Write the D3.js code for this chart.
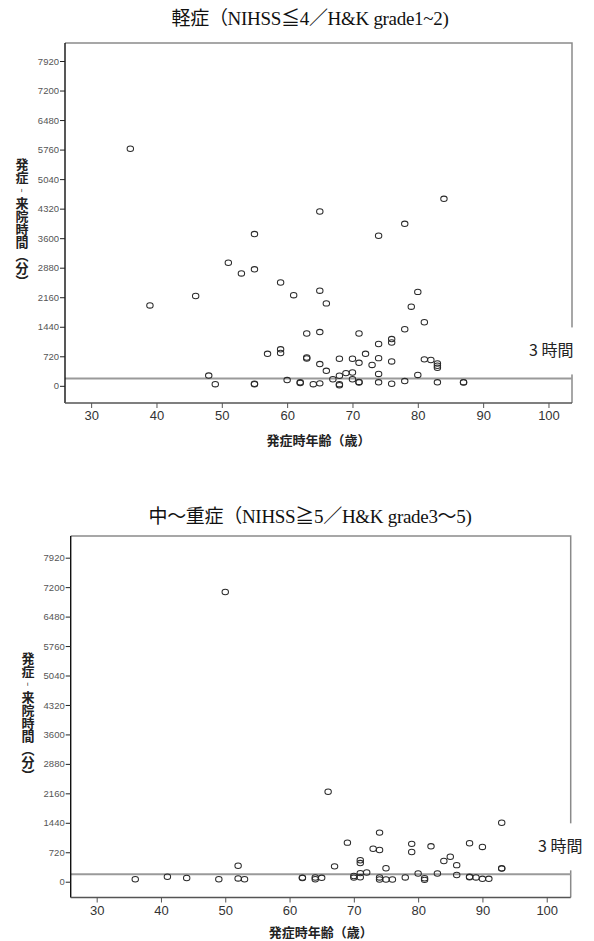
<!DOCTYPE html>
<html>
<head>
<meta charset="utf-8">
<script src="https://cdn.jsdelivr.net/npm/d3@7"></script>
<style>
body { margin: 0; background: #fff; }
svg text { font-family: "Liberation Sans", Arial, sans-serif; }
.title { font-family: "Liberation Serif", "Noto Sans CJK JP", serif; font-size: 19px; fill: #111; letter-spacing: -0.3px; }
.y-axis text { font-size: 9.5px; fill: #555; }
.x-axis text { font-size: 13px; fill: #333; }
.axis-title { font-family: "Noto Sans CJK JP", sans-serif; font-size: 13px; font-weight: bold; fill: #222; }
.y-title { writing-mode: vertical-rl; }
.cut-label { font-family: "Noto Sans CJK JP", sans-serif; font-size: 16px; fill: #222; }
</style>
</head>
<body>
<div class="chart"></div>
<script>
// DATA ------------------------------**
// 軽症: age at onset (years) / onset-to-arrival time (minutes)
const mildAge = [36, 39, 46, 48, 49, 51, 53, 55, 55, 55, 55, 57, 59, 59, 59, 60, 61, 62, 62, 63,
  63, 63, 64, 65, 65, 65, 65, 65, 66, 66, 67, 68, 68, 68, 68, 69, 70, 70, 70, 71,
  71, 71, 71, 72, 73, 74, 74, 74, 74, 74, 76, 76, 76, 76, 78, 78, 78, 79, 80, 80,
  81, 81, 82, 83, 83, 83, 83, 84, 87, 87];
const mildMin = [5780, 1960, 2190, 250, 40, 3000, 2740, 3700, 2840, 50, 40, 780, 2520, 890, 800, 140, 2210, 85, 70, 1275,
  690, 665, 40, 4250, 2320, 1310, 530, 60, 2010, 365, 160, 660, 245, 40, 15, 310, 325, 660, 160, 1275,
  560, 95, 80, 780, 510, 3660, 1020, 675, 290, 85, 1140, 1055, 595, 50, 3950, 1380, 115, 1930, 2290, 265,
  1550, 645, 630, 545, 490, 440, 85, 4560, 90, 80];

// 中～重症
const severeAge = [36, 41, 44, 49, 50, 52, 52, 53, 62, 62, 64, 64, 65, 66, 67, 69, 70, 70, 71, 71,
  71, 71, 72, 73, 74, 74, 74, 74, 75, 75, 76, 78, 79, 79, 80, 81, 81, 82, 83, 84,
  85, 86, 86, 88, 88, 88, 89, 90, 90, 91, 93, 93, 93];
const severeMin = [60, 120, 90, 60, 7080, 390, 80, 60, 100, 90, 104, 60, 95, 2200, 375, 955, 140, 100, 525, 455,
  210, 110, 225, 805, 1200, 775, 105, 55, 330, 55, 55, 105, 925, 725, 200, 85, 45, 865, 200, 505,
  610, 405, 165, 940, 120, 110, 105, 850, 70, 70, 1440, 330, 320];

const yTicks = [0, 720, 1440, 2160, 2880, 3600, 4320, 5040, 5760, 6480, 7200, 7920];
const xTicks = [30, 40, 50, 60, 70, 80, 90, 100];
const cutoff = 180; // 3時間
const titles = ['軽症（NIHSS≦4／H&K grade1~2)', '中～重症（NIHSS≧5／H&K grade3～5)'];
const xTitle = '発症時年齢（歳）';
const yTitle = '発症‐来院時間（分）';
const cutLabel = '3 時間';

// LAYOUT ----------------------------**
const W = 594, H = 941;
const panels = [
  {ages: mildAge, mins: mildMin, title: titles[0],
   left: 65, right: 572, top: 43, bottom: 403,
   xDomain: [26.0, 103.6], yDomain: [-419, 8359],
   titleY: 25, yTitleX: 22, xTitleY: 445, labelX: 529},
  {ages: severeAge, mins: severeMin, title: titles[1],
   left: 70.7, right: 570.7, top: 536, bottom: 897.5,
   xDomain: [25.96, 103.73], yDomain: [-386, 8450],
   titleY: 523, yTitleX: 28, xTitleY: 937, labelX: 538}
];

const svg = d3.select('.chart').append('svg')
    .attr('width', W)
    .attr('height', H);

panels.forEach(function(p) {
    const g = svg.append('g');

    let xScale = d3.scaleLinear().domain(p.xDomain).range([p.left, p.right]);
    let yScale = d3.scaleLinear().domain(p.yDomain).range([p.bottom, p.top]);

    // title
    g.append('text')
        .attr('class', 'title')
        .attr('x', 310)
        .attr('y', p.titleY)
        .attr('text-anchor', 'middle')
        .text(p.title);

    // frame (top / right)
    g.append('path')
        .attr('d', 'M' + p.left + ',' + p.top + 'H' + p.right + 'V' + p.bottom)
        .attr('fill', 'none')
        .attr('stroke', '#8a8a8a')
        .attr('stroke-width', 1.5);

    // 3 hour line
    g.append('line')
        .attr('x1', p.left)
        .attr('x2', p.right)
        .attr('y1', yScale(cutoff))
        .attr('y2', yScale(cutoff))
        .attr('stroke', '#9a9a9a')
        .attr('stroke-width', 2);

    // axes
    let yAxis = d3.axisLeft(yScale).tickValues(yTicks).tickFormat(d3.format('d')).tickSize(5).tickPadding(1);
    let xAxis = d3.axisBottom(xScale).tickValues(xTicks).tickFormat(d3.format('d')).tickSize(5).tickPadding(3);

    let yAxisGroup = g.append('g')
        .attr('class', 'y-axis')
        .attr('transform', 'translate(' + p.left + ',0)')
        .call(yAxis);
    yAxisGroup.select('.domain')
        .attr('d', 'M0,' + p.top + 'V' + p.bottom)
        .attr('stroke', '#111')
        .attr('stroke-width', 1.4);
    yAxisGroup.selectAll('line').attr('stroke', '#222');

    let xAxisGroup = g.append('g')
        .attr('class', 'x-axis')
        .attr('transform', 'translate(0,' + p.bottom + ')')
        .call(xAxis);
    xAxisGroup.select('.domain')
        .attr('d', 'M' + p.left + ',0H' + p.right)
        .attr('stroke', '#555')
        .attr('stroke-width', 1.5);
    xAxisGroup.selectAll('line').attr('stroke', '#555');

    // axis titles
    g.append('text')
        .attr('class', 'axis-title')
        .attr('x', (p.left + p.right) / 2)
        .attr('y', p.xTitleY)
        .attr('text-anchor', 'middle')
        .text(xTitle);

    g.append('text')
        .attr('class', 'axis-title y-title')
        .attr('x', p.yTitleX)
        .attr('y', (p.top + p.bottom) / 2)
        .attr('text-anchor', 'middle')
        .text(yTitle);

    // points
    g.selectAll('.pt')
        .data(p.ages.map(function(a, i) { return {age: a, min: p.mins[i]}; }))
        .enter()
        .append('ellipse')
        .attr('class', 'pt')
        .attr('cx', d => xScale(d.age))
        .attr('cy', d => yScale(d.min))
        .attr('rx', 3.2)
        .attr('ry', 2.7)
        .attr('fill', 'none')
        .attr('stroke', '#2a2a2a')
        .attr('stroke-width', 1.05);

    // 3時間 label, drawn over the frame
    let ly = yScale(cutoff) - 28;
    g.append('rect')
        .attr('x', p.labelX - 3)
        .attr('y', ly - 23)
        .attr('width', W - p.labelX)
        .attr('height', 47)
        .attr('fill', '#fff');
    g.append('text')
        .attr('class', 'cut-label')
        .attr('x', p.labelX)
        .attr('y', ly)
        .attr('dy', '0.35em')
        .text(cutLabel);
});
</script>
</body>
</html>
